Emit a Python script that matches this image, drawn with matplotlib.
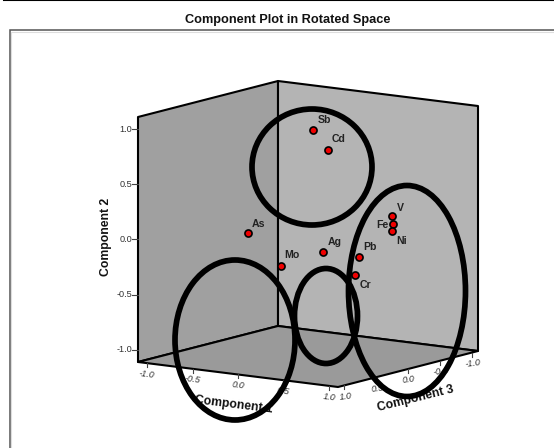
import numpy as np
import matplotlib
matplotlib.use("Agg")
import matplotlib.pyplot as plt
from matplotlib.patches import Ellipse, Polygon

# Chart values
title = "Component Plot in Rotated Space"
labels = ["Sb", "Cd", "As", "Mo", "Ag", "V", "Fe", "Ni", "Pb", "Cr"]
comp1 = [0.126, 0.36, -0.24, -0.09, 0.31, 0.64, 0.66, 0.645, 0.42, 0.45]
comp2 = [0.97, 0.83, 0.07, -0.255, -0.10, 0.17, 0.10, 0.03, -0.195, -0.34]
comp3 = [0.1, 0.2, 0.6, 0.3, 0.2, -0.4, -0.4, -0.4, -0.2, -0.1]
label_offsets = [(11, -10), (11, -11), (10, -9), (11, -11), (11, -10), (9, -8), (-11, 1), (9, 10), (11, -10), (10, 10)]
y_ticks = [-1.0, -0.5, 0.0, 0.5, 1.0]
x_ticks = [-1.0, -0.5, 0.0, 0.5, 1.0]
z_ticks = [-1.0, -0.5, 0.0, 0.5, 1.0]
# Hand-drawn annotation ellipses: centre x, centre y, width, height, angle (image pixels)
ring_x = [312, 235, 326, 407]
ring_y = [167, 340, 316, 291]
ring_w = [120, 120, 63, 117]
ring_h = [116, 160, 95, 211]
ring_a = [0, 0, 0, 0]

W, H = 554, 448
fig = plt.figure(figsize=(W / 100, H / 100), dpi=100, facecolor="white")
ax = fig.add_axes([0, 0, 1, 1])
ax.set_xlim(0, W)
ax.set_ylim(H, 0)
ax.axis("off")
plt.rcParams["font.family"] = ["Liberation Sans", "DejaVu Sans"]

LIM = 1.1
LIM2 = 1.11
ORIGIN = np.array([138.0, 362.0])
E1 = np.array([200.0, 25.0]) / (2 * LIM)
E3 = np.array([140.0, -36.0]) / (2 * LIM)
E2 = np.array([0.0, -245.0]) / (2 * LIM2)


def proj(c1, c2, c3):
    return ORIGIN + (c1 + LIM) * E1 + (LIM - c3) * E3 + (c2 + LIM2) * E2


left_b, left_t = proj(-LIM, -LIM2, LIM), proj(-LIM, LIM2, LIM)
back_b, back_t = proj(-LIM, -LIM2, -LIM), proj(-LIM, LIM2, -LIM)
right_b, right_t = proj(LIM, -LIM2, -LIM), proj(LIM, LIM2, -LIM)
front = proj(LIM, -LIM2, LIM)

ax.add_patch(Polygon([left_b, left_t, back_t, back_b], closed=True, fc="#a0a0a0", ec="black", lw=1.5, joinstyle="round", zorder=1))
ax.add_patch(Polygon([back_b, back_t, right_t, right_b], closed=True, fc="#b4b4b4", ec="black", lw=1.5, joinstyle="round", zorder=1))
ax.add_patch(Polygon([left_b, back_b, right_b, front], closed=True, fc="#9a9a9a", ec="black", lw=1.5, joinstyle="round", zorder=1))

# Outer chart frame (open at the right and bottom)
ax.plot([9.5, 9.5, W], [H, 30.5, 30.5], color="#555555", lw=1.1, zorder=1, solid_joinstyle="miter")
ax.plot([11, 11, W], [H, 32, 32], color="#dddddd", lw=0.8, zorder=1)
ax.plot([4, W], [0.5, 0.5], color="black", lw=1.5, zorder=1)

ax.text(287.5, 20, title, ha="center", va="center", fontsize=9.2, fontweight="bold", color="#111111")

tick_c = "#333333"
for v in y_ticks:
    p = proj(-LIM, v, LIM)
    ax.plot([p[0] - 6, p[0]], [p[1], p[1]], color="#444444", lw=0.8, zorder=1)
    ax.text(p[0] - 6, p[1], f"{v:.1f}", ha="right", va="center", fontsize=6.6, color=tick_c)
for v in x_ticks:
    p = proj(v, -LIM2, LIM)
    ax.plot([p[0], p[0]], [p[1], p[1] + 4], color="#444444", lw=0.8, zorder=1)
    ax.text(p[0], p[1] + 11, f"{v:.1f}", ha="center", va="center", fontsize=6.6, style="italic", rotation=-7, color=tick_c)
for v in z_ticks:
    p = proj(LIM, -LIM2, v)
    ax.plot([p[0], p[0]], [p[1], p[1] + 4], color="#444444", lw=0.8, zorder=1)
    ax.text(p[0] + 1, p[1] + 11, f"{v:.1f}", ha="center", va="center", fontsize=6.6, style="italic", rotation=8, color=tick_c)

ax.text(105.5, 237, "Component 2", rotation=90, ha="center", va="center", fontsize=8.8, fontweight="bold", color="#111111")
ax.text(234, 405, "Component 1", rotation=-7, ha="center", va="center", fontsize=8.8, fontweight="bold", color="#111111")
ax.text(416, 399, "Component 3", rotation=14, ha="center", va="center", fontsize=8.8, fontweight="bold", color="#111111")

pts = np.array([proj(a, b, c) for a, b, c in zip(comp1, comp2, comp3)])
ax.scatter(pts[:, 0], pts[:, 1], s=26, c="#f00000", edgecolors="black", linewidths=1.2, zorder=3)
for (x, y), lab, (dx, dy) in zip(pts, labels, label_offsets):
    ax.text(x + dx, y + dy, lab, ha="center", va="center", fontsize=7.6, fontweight="bold", color="#222222", zorder=4)

for x, y, w, h, a in zip(ring_x, ring_y, ring_w, ring_h, ring_a):
    ax.add_patch(Ellipse((x, y), w, h, angle=a, fill=False, ec="black", lw=4.1, zorder=5))

fig.savefig("out.png", dpi=100)
